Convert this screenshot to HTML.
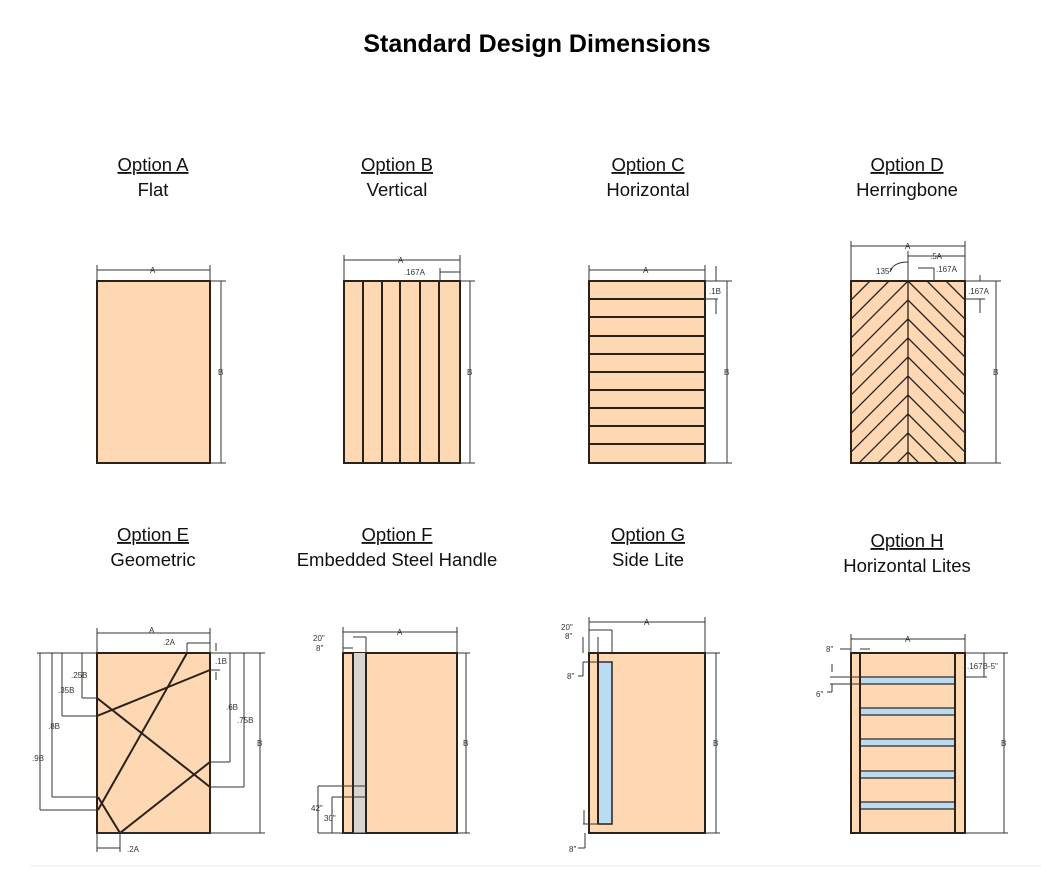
<!DOCTYPE html>
<html><head><meta charset="utf-8"><style>
html,body{margin:0;padding:0;background:#fff;width:1041px;height:885px;overflow:hidden}
svg{display:block}
.t{font-family:"Liberation Sans",sans-serif;font-size:18.5px;fill:#111;text-anchor:middle}
.d{font-family:"Liberation Sans",sans-serif;font-size:8px;fill:#333}
.p{fill:#fdd8b3;stroke:#2b211b;stroke-width:2}
.l{stroke:#2b211b;stroke-width:2;fill:none}
.m{stroke:#333;stroke-width:1;fill:none}
</style></head><body>
<svg width="1041" height="885" viewBox="0 0 1041 885" xmlns="http://www.w3.org/2000/svg">
<text x="537" y="52" style="font-family:'Liberation Sans',sans-serif;font-size:25px;font-weight:bold;text-anchor:middle">Standard Design Dimensions</text>

<g class="t">
<text x="153" y="171" text-decoration="underline">Option A</text><text x="153" y="196">Flat</text>
<text x="397" y="171" text-decoration="underline">Option B</text><text x="397" y="196">Vertical</text>
<text x="648" y="171" text-decoration="underline">Option C</text><text x="648" y="196">Horizontal</text>
<text x="907" y="171" text-decoration="underline">Option D</text><text x="907" y="196">Herringbone</text>
<text x="153" y="541" text-decoration="underline">Option E</text><text x="153" y="566">Geometric</text>
<text x="397" y="541" text-decoration="underline">Option F</text><text x="397" y="566">Embedded Steel Handle</text>
<text x="648" y="541" text-decoration="underline">Option G</text><text x="648" y="566">Side Lite</text>
<text x="907" y="547" text-decoration="underline">Option H</text><text x="907" y="572">Horizontal Lites</text>
</g>
<line x1="30" y1="866" x2="1041" y2="866" stroke="#eee" stroke-width="1"/>

<!-- A -->
<rect class="p" x="97" y="281" width="113" height="182"/>
<path class="m" d="M97 265V281M210 265V281M97 270H210M210 281H226M210 463H226M221 281V463"/>
<text class="d" x="150" y="273">A</text><text class="d" x="218" y="375">B</text>

<!-- B -->
<rect class="p" x="344" y="281" width="116" height="182"/>
<path class="l" d="M363 281V463M382 281V463M400 281V463M420 281V463M439 281V463"/>
<path class="m" d="M344 255V281M460 255V281M344 260H460M440 268V281M440 272H460M460 281H475M460 463H475M470 281V463"/>
<text class="d" x="398" y="263">A</text><text class="d" x="404" y="275">.167A</text><text class="d" x="467" y="375">B</text>

<!-- C -->
<rect class="p" x="589" y="281" width="116" height="182"/>
<path class="l" d="M589 299H705M589 317H705M589 336H705M589 354H705M589 372H705M589 390H705M589 408H705M589 426H705M589 444H705"/>
<path class="m" d="M589 265V281M705 265V281M589 270H705M705 281H732M705 299H718M716 266V281M716 299V314M727 281V463M705 463H732"/>
<text class="d" x="643" y="273">A</text><text class="d" x="709" y="294">.1B</text><text class="d" x="724" y="375">B</text>

<!-- D -->
<clipPath id="cd"><rect x="851" y="281" width="114" height="182"/></clipPath>
<rect class="p" x="851" y="281" width="114" height="182"/>
<g clip-path="url(#cd)" class="l" style="stroke-width:1.3">
<path d="M908 281V463
M908 281L851 338M908 300L851 357M908 319L851 376M908 338L851 395M908 357L851 414M908 376L851 433M908 395L851 452M908 414L851 471M908 433L851 490M908 452L851 509M889 281L851 319M870 281L851 300
M908 281L965 338M908 300L965 357M908 319L965 376M908 338L965 395M908 357L965 414M908 376L965 433M908 395L965 452M908 414L965 471M908 433L965 490M908 452L965 509M927 281L965 319M946 281L965 300"/>
</g>
<rect x="851" y="281" width="114" height="182" fill="none" stroke="#2b211b" stroke-width="2"/>
<path class="m" d="M851 241V281M965 241V281M851 246H965M908 251V281M908 256H965M918 268H934M934 268V281M965 281H1001M996 281V463M965 463H1001M980 275V281M965 299H985M980 299V313M908 262Q893 262 890 272"/>
<text class="d" x="905" y="249">A</text><text class="d" x="930" y="259">.5A</text><text class="d" x="936" y="272">.167A</text><text class="d" x="876" y="274">135°</text><text class="d" x="968" y="294">.167A</text><text class="d" x="993" y="375">B</text>

<!-- E -->
<rect class="p" x="97" y="653" width="113" height="180"/>
<path class="l" d="M187 653L98 810M98 797L120 833L210 762M97 716L210 670M97 698L210 787"/>
<path class="m" d="M37 653H97M210 653H265M97 833H265M97 628V653M210 628V653M97 633H210M187 643V653M187 643H210M97 833V852M120 833V852M97 848H120
M52 653V797M52 797H98M40 653V810M40 810H98M62 653V716M62 716H97M82 653V698M82 698H97
M210 670H220M216 643V651M216 672V680M230 653V762M230 762H210M244 653V787M244 787H210M260 653V833"/>
<text class="d" x="149" y="633">A</text><text class="d" x="163" y="645">.2A</text><text class="d" x="127" y="852">.2A</text>
<text class="d" x="71" y="678">.25B</text><text class="d" x="58" y="693">.35B</text><text class="d" x="48" y="729">.8B</text><text class="d" x="32" y="761">.9B</text>
<text class="d" x="215" y="664">.1B</text><text class="d" x="226" y="710">.6B</text><text class="d" x="237" y="723">.75B</text><text class="d" x="257" y="746">B</text>

<!-- F -->
<rect class="p" x="343" y="653" width="114" height="180"/>
<rect x="353" y="653" width="13" height="180" fill="#d8d4d0"/>
<path class="l" d="M353 653V833M366 653V833"/>
<path class="m" d="M343 627V653M457 627V653M343 632H457M353 637H366M343 648H353M366 637V653M318 786H366M332 797H366M318 786V833M332 797V833M318 833H366M457 653H470M457 833H470M466 653V833"/>
<text class="d" x="397" y="635">A</text><text class="d" x="313" y="641">20"</text><text class="d" x="316" y="651">8"</text><text class="d" x="311" y="811">42"</text><text class="d" x="324" y="821">30"</text><text class="d" x="463" y="746">B</text>

<!-- G -->
<rect class="p" x="589" y="653" width="116" height="180"/>
<rect x="598" y="662" width="14" height="162" fill="#b9dcf2" stroke="#2b211b" stroke-width="1.5"/>
<path class="l" d="M598 653V824"/>
<path class="m" d="M589 617V653M705 617V653M589 622H705M589 630H612M612 630V653M598 637V653M583 637V653M583 662H612M583 662V676M578 676H583M583 824H598M584 810V824M585 833V848M578 848H585M705 653H720M705 833H720M716 653V833"/>
<text class="d" x="644" y="625">A</text><text class="d" x="561" y="630">20"</text><text class="d" x="565" y="639">8"</text><text class="d" x="567" y="679">8"</text><text class="d" x="569" y="852">8"</text><text class="d" x="713" y="746">B</text>

<!-- H -->
<rect class="p" x="851" y="653" width="114" height="180"/>
<g fill="#b9dcf2" stroke="#2b211b" stroke-width="1.2">
<rect x="860" y="677" width="95" height="7"/><rect x="860" y="708" width="95" height="7"/><rect x="860" y="739" width="95" height="7"/><rect x="860" y="771" width="95" height="7"/><rect x="860" y="802" width="95" height="7"/>
</g>
<path class="l" d="M860 653V833M955 653V833"/>
<path class="m" d="M851 634V653M965 634V653M851 639H965M840 649H851M860 649H870M965 653H1008M965 677H987M984 653V677M830 677H860M830 684H860M832 664V672M832 684V692M827 692H832M965 833H1008M1004 653V833"/>
<text class="d" x="905" y="642">A</text><text class="d" x="826" y="652">8"</text><text class="d" x="816" y="697">6"</text><text class="d" x="967" y="669">.167B-5"</text><text class="d" x="1001" y="746">B</text>
</svg>
</body></html>
